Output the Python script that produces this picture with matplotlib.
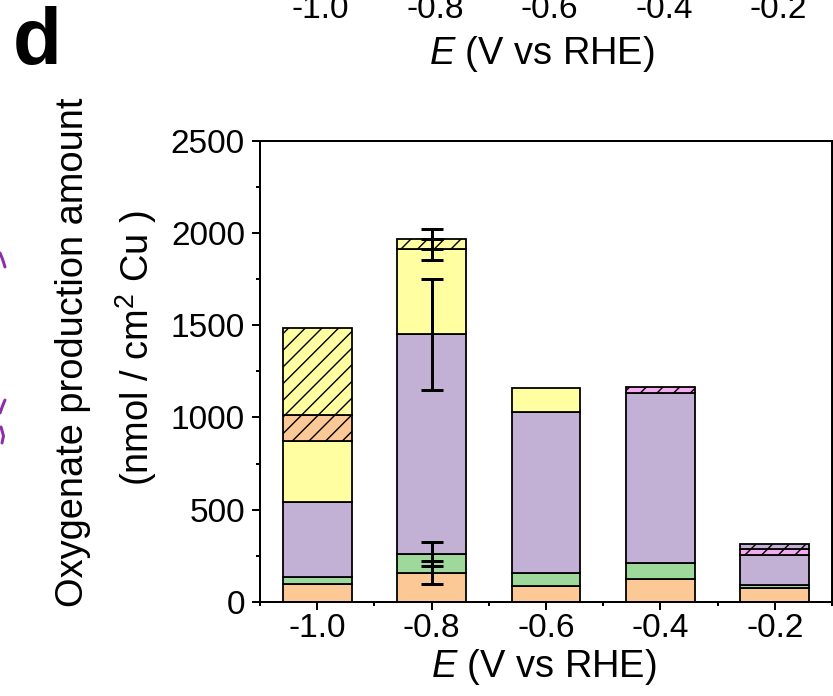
import matplotlib
matplotlib.use("Agg")
import matplotlib.pyplot as plt
from matplotlib.ticker import MultipleLocator
from matplotlib.transforms import blended_transform_factory
from matplotlib.lines import Line2D
import numpy as np

# ---------------- data ----------------
potentials = [-1.0, -0.8, -0.6, -0.4, -0.2]
tick_labels = ["-1.0", "-0.8", "-0.6", "-0.4", "-0.2"]
y_tick_labels = ["0", "500", "1000", "1500", "2000", "2500"]

orange_solid = [100, 159, 87, 124, 74]
green_solid = [34, 99, 70, 89, 18]
purple_solid = [406, 1192, 873, 922, 162]
yellow_solid = [330, 462, 132, 0, 0]
orange_hatched = [143, 0, 0, 0, 0]
yellow_hatched = [473, 56, 0, 0, 0]
pink_hatched = [0, 0, 0, 30, 33]
purple_hatched = [0, 0, 0, 0, 25]

orange_err = [0, 63, 0, 0, 0]
green_err = [0, 65, 0, 0, 0]
purple_err = [0, 300, 0, 0, 0]
yellow_err = [0, 57, 0, 0, 0]
yellow_hatched_err = [0, 55, 0, 0, 0]

# ---------------- style ----------------
DPI = 150
def px(v):
    return v * 72.0 / DPI

plt.rcParams['font.family'] = ['Liberation Sans', 'DejaVu Sans']
plt.rcParams['mathtext.fontset'] = 'custom'
plt.rcParams['mathtext.rm'] = 'Liberation Sans'
plt.rcParams['mathtext.it'] = 'Liberation Sans:italic'
plt.rcParams['mathtext.bf'] = 'Liberation Sans:bold'
plt.rcParams['hatch.linewidth'] = px(1.4)

FS = px(33.5)      # tick labels
FL = px(38)        # axis labels

C_ORANGE = '#FCC896'
C_GREEN = '#9ED89B'
C_PURPLE = '#C3B1D5'
C_YELLOW = '#FFFFA2'
C_PINK = '#F6AAF0'

series = [
    (orange_solid, C_ORANGE, None, orange_err),
    (green_solid, C_GREEN, None, green_err),
    (purple_solid, C_PURPLE, None, purple_err),
    (yellow_solid, C_YELLOW, None, yellow_err),
    (orange_hatched, C_ORANGE, '///', [0] * 5),
    (yellow_hatched, C_YELLOW, '///', yellow_hatched_err),
    (pink_hatched, C_PINK, '///', [0] * 5),
    (purple_hatched, C_PURPLE, '///', [0] * 5),
]

W, H = 833, 696
fig = plt.figure(figsize=(W / DPI, H / DPI), dpi=DPI)
ax = fig.add_axes([260 / W, (H - 602) / H, (832 - 260) / W, (602 - 140.7) / H])

x = np.array(potentials)
bottom = np.zeros(len(x))
err_x, err_y, err_v = [], [], []
for vals, col, hatch, errs in series:
    v = np.array(vals, dtype=float)
    m = v > 0
    ax.bar(x[m], v[m], width=0.12, bottom=bottom[m], color=col,
           edgecolor='black', linewidth=px(1.8), hatch=hatch, zorder=2)
    tops = bottom + v
    for i, e in enumerate(errs):
        if e > 0:
            err_x.append(x[i]); err_y.append(tops[i]); err_v.append(e)
    bottom = tops

ax.errorbar(err_x, err_y, yerr=err_v, fmt='none', ecolor='black',
            elinewidth=px(3), capsize=px(11), capthick=px(3), zorder=3)

ax.set_xlim(-1.1, -0.1)
ax.set_ylim(0, 2500)
ax.set_xticks(potentials)
ax.set_xticklabels(tick_labels)
ax.set_yticks([0, 500, 1000, 1500, 2000, 2500])
ax.set_yticklabels(y_tick_labels)
ax.xaxis.set_minor_locator(MultipleLocator(0.1))
ax.yaxis.set_minor_locator(MultipleLocator(250))
ax.tick_params(which='major', direction='out', length=px(8), width=px(2),
               labelsize=FS, top=False, right=False)
ax.tick_params(which='minor', direction='out', length=px(4), width=px(2),
               top=False, right=False)
ax.tick_params(axis='y', which='major', pad=px(7))
ax.tick_params(axis='x', which='major', pad=px(3))
for s in ax.spines.values():
    s.set_linewidth(px(2))

# x label
fig.text(544 / W, 1 - 677 / H, r'$\mathit{E}$ (V vs RHE)', ha='center',
         va='baseline', fontsize=FL)

# y label (two lines)
fig.text(73 / W, 1 - 352 / H, 'Oxygenate production amount', rotation=90,
         ha='center', va='center', fontsize=FL)
fig.text(136 / W, 1 - 348 / H, r'(nmol / cm$^{2}$ Cu )', rotation=90,
         ha='center', va='center', fontsize=FL)

# leftover of the panel above (cropped at the top edge, as in the source)
trans_top = blended_transform_factory(ax.transData, fig.transFigure)
for p, lab in zip(potentials, tick_labels):
    fig.text(p + 0.006, 1 - 17.5 / H, lab, transform=trans_top, ha='center',
             va='baseline', fontsize=FS)
fig.text(542 / W, 1 - 64 / H, r'$\mathit{E}$ (V vs RHE)', ha='center',
         va='baseline', fontsize=FL)

# panel letter
fig.text(13 / W, 1 - 64 / H, 'd', ha='left', va='baseline',
         fontsize=px(80), fontweight='bold')

# fragments of a purple curve from the neighbouring panel
for xs, ys in [([0, 2.5, 5], [253, 259, 267]),
               ([0, 2.5, 5], [413, 406, 400]),
               ([1, 3.5, 2], [427, 436, 443])]:
    fig.add_artist(Line2D([v / W for v in xs], [1 - v / H for v in ys],
                          transform=fig.transFigure, color='#8E2CB0',
                          linewidth=px(3), solid_capstyle='round'))

fig.savefig('out.png', dpi=DPI)
